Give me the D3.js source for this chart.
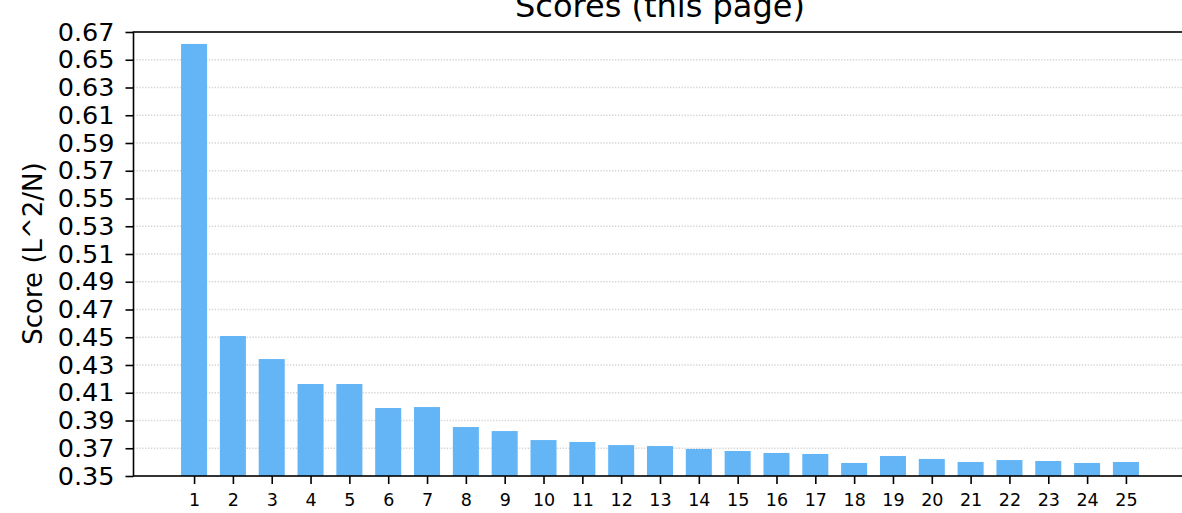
<!DOCTYPE html>
<html>
<head>
<meta charset="utf-8">
<script src="https://cdn.jsdelivr.net/npm/d3@7"></script>
<style>
html,body{margin:0;padding:0;background:#fff;overflow:hidden;}
svg{display:block;font-family:"DejaVu Sans",sans-serif;}
</style>
</head>
<body>
<svg id="chart" width="1182" height="513"></svg>
<script>
const categories = ["1","2","3","4","5","6","7","8","9","10","11","12","13","14","15","16","17","18","19","20","21","22","23","24","25"];
const scores = [0.6614,0.4509,0.4343,0.4163,0.4163,0.3990,0.3997,0.3853,0.3824,0.3759,0.3745,0.3723,0.3716,0.3695,0.3680,0.3666,0.3659,0.3594,0.3644,0.3623,0.3601,0.3615,0.3608,0.3594,0.3601];
const yTicks = [0.35,0.37,0.39,0.41,0.43,0.45,0.47,0.49,0.51,0.53,0.55,0.57,0.59,0.61,0.63,0.65,0.67];
const titleText = "Scores (this page)";
const yLabel = "Score (L^2/N)";

(function(){
const svg = d3.select("#chart");
const pL = 133.5, pR = 1186.5, pT = 32, pB = 476;
const n = categories.length;
const pad = 1.56;
const x = d3.scaleLinear().domain([1 - pad, n + pad]).range([pL, pR]);
const y = d3.scaleLinear().domain([0.35, 0.67]).range([pB, pT]);
const barW = 0.67;

// grid
svg.append("g").selectAll("line").data(yTicks.filter(t => t > 0.351 && t < 0.669)).join("line")
  .attr("x1", pL).attr("x2", pR)
  .attr("y1", d => y(d)).attr("y2", d => y(d))
  .attr("stroke", "#d4d4d4").attr("stroke-width", 1.3)
  .attr("stroke-dasharray", "1.3,1.6");

// bars
svg.append("g").selectAll("rect").data(scores).join("rect")
  .attr("x", (d, i) => x(i + 1 - barW / 2))
  .attr("width", (d, i) => x(i + 1 + barW / 2) - x(i + 1 - barW / 2))
  .attr("y", d => y(d))
  .attr("height", d => y(0.35) - y(d))
  .attr("fill", "#64B5F6");

// y axis
const yAxis = d3.axisLeft(y).tickValues(yTicks).tickFormat(d3.format(".2f")).tickSize(8).tickPadding(11);
const gy = svg.append("g").attr("transform", `translate(${pL},0)`).call(yAxis);
gy.select(".domain").remove();
gy.selectAll(".tick line").attr("stroke", "#000").attr("stroke-width", 1.6);
gy.selectAll(".tick text").attr("font-size", "25.5px").attr("fill", "#000").attr("font-family", "DejaVu Sans");

// x axis
const xAxis = d3.axisBottom(x).tickValues(d3.range(1, n + 1)).tickFormat((d, i) => categories[i]).tickSize(8).tickPadding(10);
const gx = svg.append("g").attr("transform", `translate(0,${pB})`).call(xAxis);
gx.select(".domain").remove();
gx.selectAll(".tick line").attr("stroke", "#000").attr("stroke-width", 1.6);
gx.selectAll(".tick text").attr("font-size", "17.5px").attr("fill", "#000").attr("font-family", "DejaVu Sans");

// spines
svg.append("rect").attr("x", pL).attr("y", pT).attr("width", pR - pL).attr("height", pB - pT)
  .attr("fill", "none").attr("stroke", "#000").attr("stroke-width", 1.6);

// title
svg.append("text").attr("x", (pL + pR) / 2).attr("y", 16.5)
  .attr("text-anchor", "middle").attr("font-size", "32px").attr("fill", "#000").text(titleText);

// y label
svg.append("text").attr("transform", `translate(41.5,253.5) rotate(-90)`)
  .attr("text-anchor", "middle").attr("font-size", "26px").attr("fill", "#000").text(yLabel);
})();
</script>
</body>
</html>
